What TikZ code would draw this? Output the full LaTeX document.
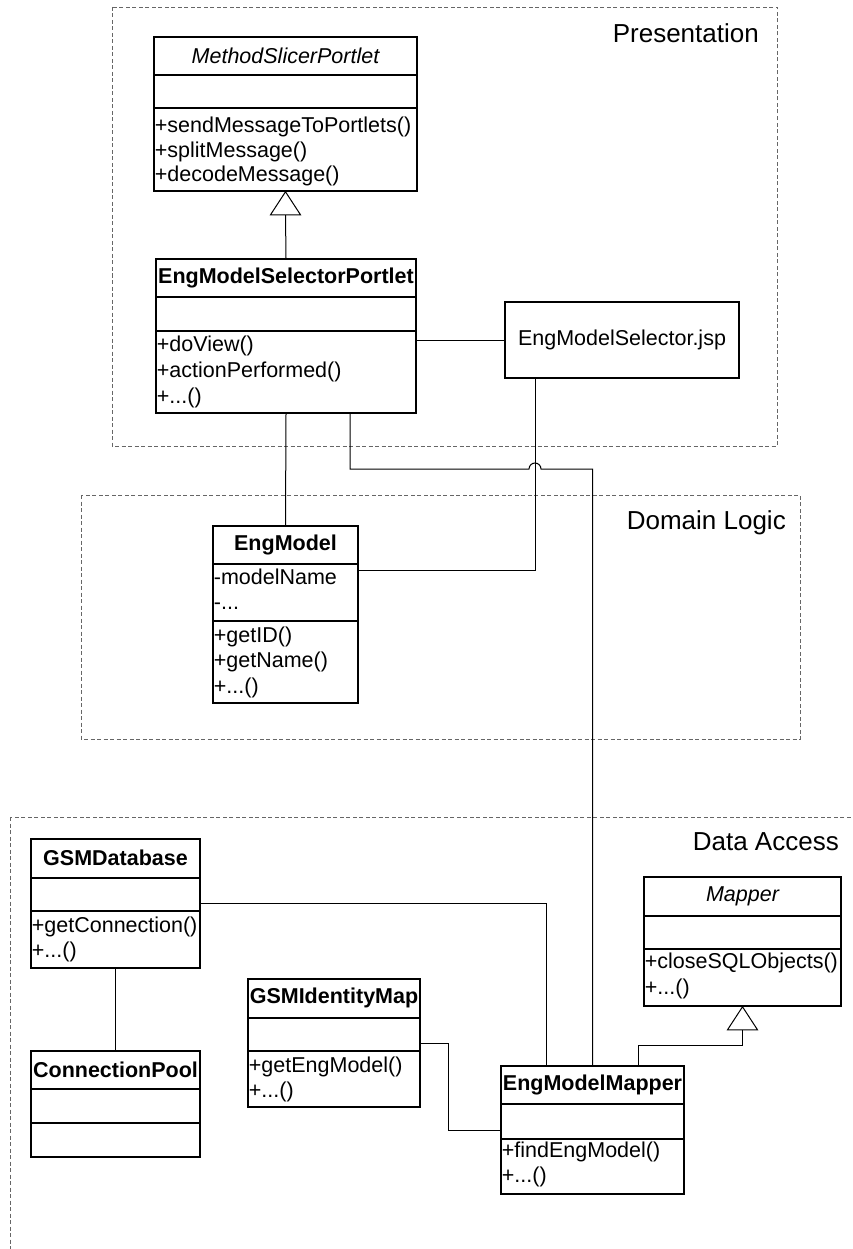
\documentclass[tikz,border=0pt]{standalone}
\usepackage{fontspec}
\setmainfont{Liberation Sans}
\newcommand{\umlbox}[5]{\node[classbox, minimum width={(#4)-(#2)}, minimum height={(#5)-(#3)}] (#1) at ({((#2)+(#4))/2},{((#3)+(#5))/2}) {};}
\newcommand{\umlsep}[2]{\draw[sepline] (#1.west |- 0,#2) -- (#1.east |- 0,#2);}
\begin{document}
\begin{tikzpicture}[x=1pt,y=-1pt,
  frame/.style={draw=black!60, line width=0.9pt, dash pattern=on 4pt off 2.5pt},
  layer/.style={font=\fontsize{26}{30}\selectfont, anchor=east, inner sep=0pt},
  classbox/.style={draw, line width=1.6pt, rectangle, inner sep=0pt, fill=white},
  sepline/.style={line width=1.6pt},
  btitle/.style={font=\fontsize{21.5}{25}\selectfont\bfseries, inner sep=0pt},
  ititle/.style={font=\fontsize{21.5}{25}\selectfont\itshape, inner sep=0pt},
  plain/.style={font=\fontsize{21.5}{25}\selectfont, inner sep=0pt},
  member/.style={font=\fontsize{21.5}{25}\selectfont, anchor=west, inner xsep=1.5pt, inner ysep=0pt, text height=15.5pt, text depth=4.5pt},
  conn/.style={line width=1pt},
  inh/.style={line width=1pt, fill=white}
]
\useasboundingbox (0,0) rectangle (853,1249);
\clip (0,0) rectangle (853,1249);

% layer frames
\draw[frame] (112,7) rectangle (777,446);
\draw[frame] (81,495) rectangle (800,739);
\draw[frame] (10,817) rectangle (890,1290);
\node[layer] (pres) at (759,33) {Presentation};
\node[layer] (dom) at (786,523) {Domain Logic};
\node[layer] (data) at (839,842) {Data Access};

% MethodSlicerPortlet
\umlbox{msp}{154}{37}{417}{191}
\umlsep{msp}{75}\umlsep{msp}{108}
\node[ititle] (msp-t) at (msp.north |- 0,56) {MethodSlicerPortlet};
\node[member] (msp-m1) at (msp.west |- 0,127) {+sendMessageToPortlets()};
\node[member] (msp-m2) at (msp.west |- 0,152) {+splitMessage()};
\node[member] (msp-m3) at (msp.west |- 0,176) {+decodeMessage()};

% EngModelSelectorPortlet
\umlbox{esp}{156}{259}{416}{413}
\umlsep{esp}{297}\umlsep{esp}{331}
\node[btitle] (esp-t) at (esp.north |- 0,278) {EngModelSelectorPortlet};
\node[member] (esp-m1) at (esp.west |- 0,346) {+doView()};
\node[member] (esp-m2) at (esp.west |- 0,372) {+actionPerformed()};
\node[member] (esp-m3) at (esp.west |- 0,398) {+...()};

% EngModelSelector.jsp
\umlbox{jsp}{505}{302}{739}{378}
\node[plain] (jsp-t) at (jsp.center) {EngModelSelector.jsp};

% EngModel
\umlbox{em}{213}{526}{358}{703}
\umlsep{em}{564}\umlsep{em}{621}
\node[btitle] (em-t) at (em.north |- 0,545) {EngModel};
\node[member] (em-a1) at (em.west |- 0,579) {-modelName};
\node[member] (em-a2) at (em.west |- 0,604) {-...};
\node[member] (em-m1) at (em.west |- 0,637) {+getID()};
\node[member] (em-m2) at (em.west |- 0,662) {+getName()};
\node[member] (em-m3) at (em.west |- 0,688) {+...()};

% GSMDatabase
\umlbox{gdb}{31}{839}{200}{968}
\umlsep{gdb}{878}\umlsep{gdb}{911}
\node[btitle] (gdb-t) at (gdb.north |- 0,858) {GSMDatabase};
\node[member] (gdb-m1) at (gdb.west |- 0,927) {+getConnection()};
\node[member] (gdb-m2) at (gdb.west |- 0,952) {+...()};

% ConnectionPool
\umlbox{cp}{31}{1051}{200}{1157}
\umlsep{cp}{1089}\umlsep{cp}{1123}
\node[btitle] (cp-t) at (cp.north |- 0,1070) {ConnectionPool};

% GSMIdentityMap
\umlbox{gim}{248}{979}{420}{1107}
\umlsep{gim}{1018}\umlsep{gim}{1051}
\node[btitle] (gim-t) at (gim.north |- 0,998) {GSMIdentityMap};
\node[member] (gim-m1) at (gim.west |- 0,1067) {+getEngModel()};
\node[member] (gim-m2) at (gim.west |- 0,1092) {+...()};

% Mapper
\umlbox{mapper}{644}{877}{841}{1006}
\umlsep{mapper}{916}\umlsep{mapper}{949}
\node[ititle] (mapper-t) at (mapper.north |- 0,896) {Mapper};
\node[member] (mapper-m1) at (mapper.west |- 0,963) {+closeSQLObjects()};
\node[member] (mapper-m2) at (mapper.west |- 0,989) {+...()};

% EngModelMapper
\umlbox{emm}{501}{1066}{684}{1194}
\umlsep{emm}{1104}\umlsep{emm}{1139}
\node[btitle] (emm-t) at (emm.north |- 0,1085) {EngModelMapper};
\node[member] (emm-m1) at (emm.west |- 0,1152) {+findEngModel()};
\node[member] (emm-m2) at (emm.west |- 0,1177) {+...()};

% helper coordinates
\coordinate (msp-base) at ([yshift=-23pt]msp.south);
\coordinate (mapper-base) at ([yshift=-23pt]mapper.south);
\coordinate (esp-s2) at ([xshift=64pt]esp.south);
\coordinate (jsp-s) at ([xshift=-87pt]jsp.south);
\coordinate (hop) at (jsp-s |- 0,469);
\coordinate (hop-l) at ([xshift=-6pt]hop);
\coordinate (em-e2) at (em.east |- 0,570);
\coordinate (emm-n1) at ([xshift=-46pt]emm.north);
\coordinate (emm-n3) at ([xshift=46pt]emm.north);
\coordinate (gim-b) at ([xshift=28pt]gim.east);

% connectors
\draw[conn] (msp-base) -- (esp.north);
\draw[inh] (msp.south) -- ([xshift=-15pt]msp-base) -- ([xshift=15pt]msp-base) -- cycle;
\draw[conn] (esp.east |- jsp.west) -- (jsp.west);
\draw[conn] (esp.south) -- (em.north);
\draw[conn] (esp-s2) |- (hop-l) arc[start angle=180, end angle=0, radius=6pt] -| (emm.north);
\draw[conn] (jsp-s) |- (em-e2);
\draw[conn] (gdb.east) -| (emm-n1);
\draw[conn] (gdb.south) -- (cp.north);
\draw[conn] (gim.east) -- (gim-b) |- (emm.west);
\draw[conn] (mapper-base) -- ++(0,16) -| (emm-n3);
\draw[inh] (mapper.south) -- ([xshift=-15pt]mapper-base) -- ([xshift=15pt]mapper-base) -- cycle;
\end{tikzpicture}
\end{document}
